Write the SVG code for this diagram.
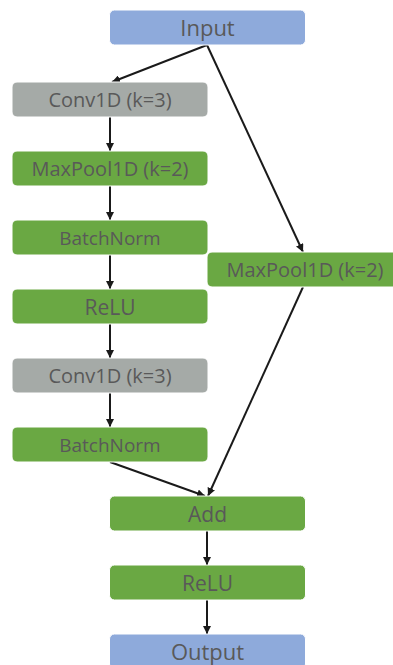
<svg xmlns="http://www.w3.org/2000/svg" width="393" height="665" viewBox="0 0 393 665">
<style>
.box{stroke:#ffffff;stroke-width:1}
.blue{fill:#8eaadb}
.green{fill:#6aa843}
.gray{fill:#a5aaa7}
text{font-family:"Open Sans","Liberation Sans",sans-serif;fill:#595959;text-anchor:middle}
.c{stroke:#1a1a1a;stroke-width:2;fill:none;marker-end:url(#ah)}
</style>
<defs>
<marker id="ah" markerWidth="8" markerHeight="8" viewBox="0 0 10 10" refX="10" refY="5" orient="auto" markerUnits="userSpaceOnUse">
<path d="M0,0 L10,5 L0,10 z" fill="#1a1a1a"/>
</marker>
</defs>
<rect width="393" height="665" fill="#ffffff"/>
<g id="connectors">
<line class="c" x1="207" y1="45" x2="112" y2="82"/>
<line class="c" x1="207" y1="45" x2="303" y2="252"/>
<line class="c" x1="110" y1="117" x2="110" y2="151"/>
<line class="c" x1="110" y1="186" x2="110" y2="220"/>
<line class="c" x1="110" y1="255" x2="110" y2="289"/>
<line class="c" x1="110" y1="324" x2="110" y2="358"/>
<line class="c" x1="110" y1="393" x2="110" y2="427"/>
<line class="c" x1="110" y1="462" x2="205" y2="496"/>
<line class="c" x1="303" y1="287" x2="208" y2="496"/>
<line class="c" x1="207" y1="531" x2="207" y2="565"/>
<line class="c" x1="207" y1="600" x2="207" y2="634"/>
</g>
<g id="input"><rect class="box blue" x="109.5" y="10" width="196" height="35" rx="5"/><text x="207.5" y="36" font-size="22">Input</text></g>
<g id="conv1"><rect class="box gray" x="12" y="82" width="196" height="35" rx="5"/><text x="110" y="107" font-size="20">Conv1D (k=3)</text></g>
<g id="maxpool1"><rect class="box green" x="12" y="151" width="196" height="35" rx="5"/><text x="110" y="176" font-size="20">MaxPool1D (k=2)</text></g>
<g id="bn1"><rect class="box green" x="12" y="220" width="196" height="35" rx="5"/><text x="110" y="245" font-size="19">BatchNorm</text></g>
<g id="relu1"><rect class="box green" x="12" y="289" width="196" height="35" rx="5"/><text x="110" y="315" font-size="21">ReLU</text></g>
<g id="conv2"><rect class="box gray" x="12" y="358" width="196" height="35" rx="5"/><text x="110" y="383" font-size="20">Conv1D (k=3)</text></g>
<g id="bn2"><rect class="box green" x="12" y="427" width="196" height="35" rx="5"/><text x="110" y="452" font-size="19">BatchNorm</text></g>
<g id="maxpool2"><rect class="box green" x="207" y="252" width="196" height="35" rx="5"/><text x="305" y="277" font-size="20">MaxPool1D (k=2)</text></g>
<g id="add"><rect class="box green" x="109.5" y="496" width="196" height="35" rx="5"/><text x="207.5" y="522" font-size="21">Add</text></g>
<g id="relu2"><rect class="box green" x="109.5" y="565" width="196" height="35" rx="5"/><text x="207.5" y="591" font-size="21">ReLU</text></g>
<g id="output"><rect class="box blue" x="109.5" y="634" width="196" height="35" rx="5"/><text x="207.5" y="660" font-size="22">Output</text></g>
</svg>
